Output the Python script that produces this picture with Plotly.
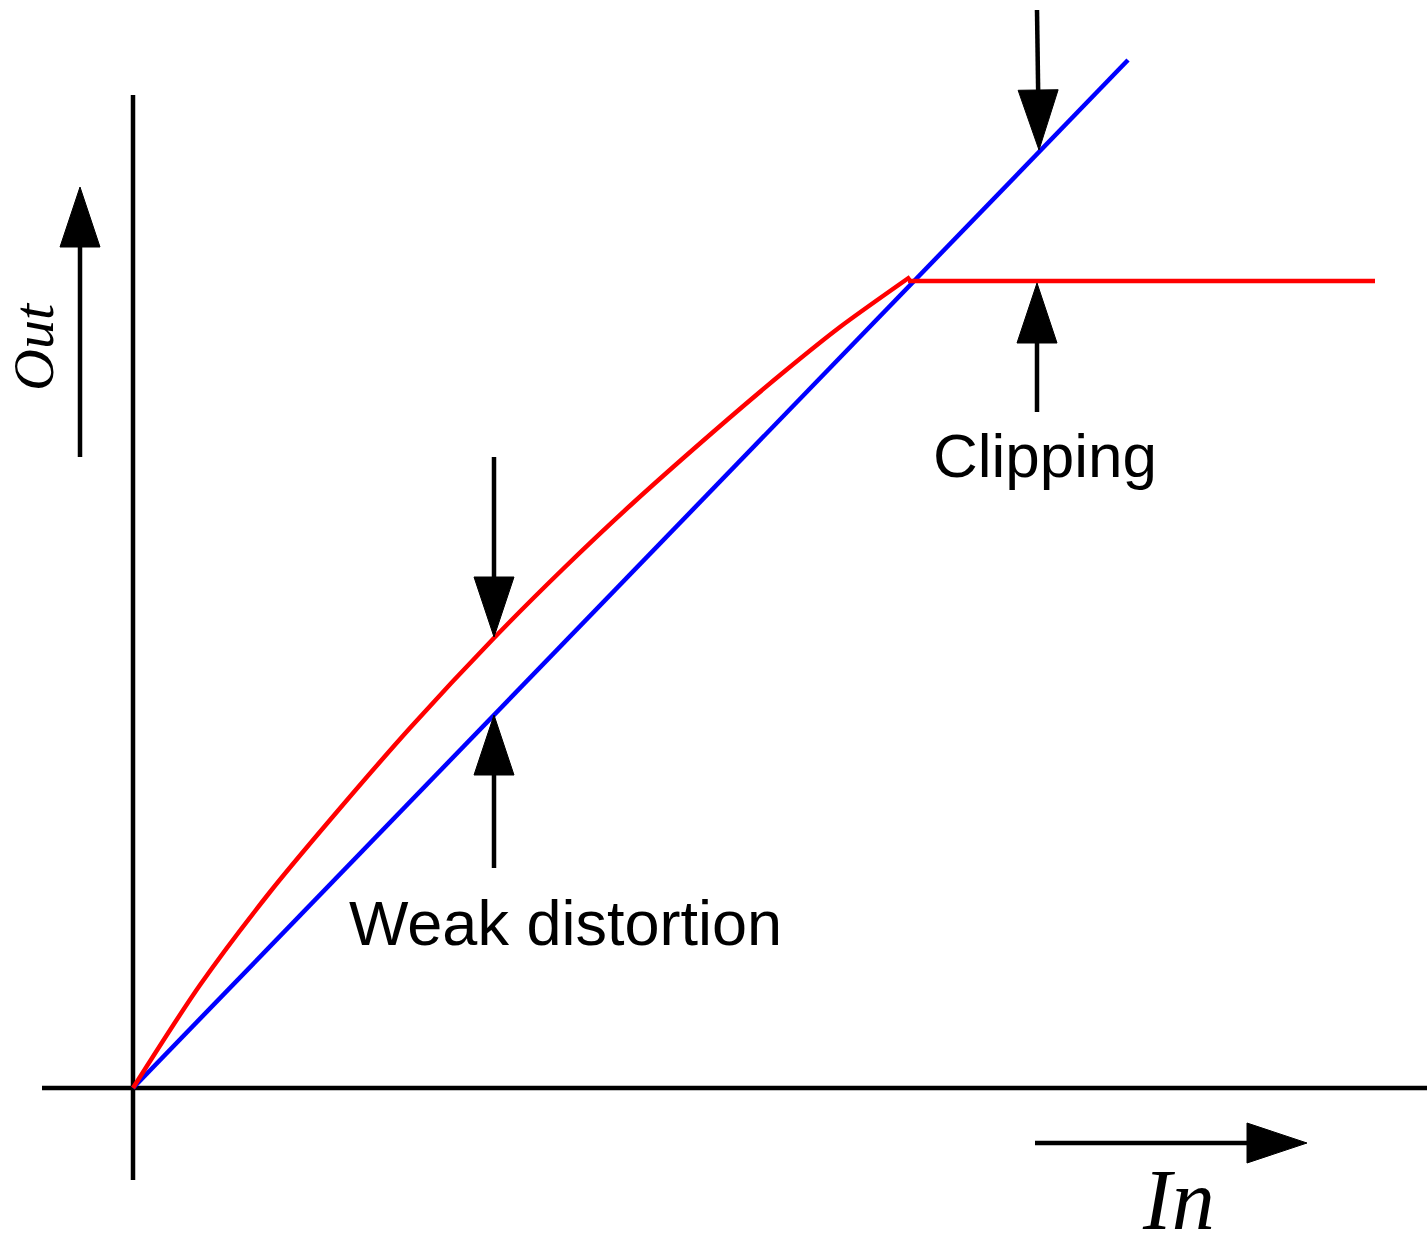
import plotly.graph_objects as go

# ---- data (In / Out units: 1 unit = 100 px of the original drawing) ----
linear_in = [0.0, 9.95]
linear_out = [0.0, 10.28]

curve_in = [0.0, 0.67, 1.37, 1.97, 2.77, 3.61, 4.30, 5.00, 5.94, 6.52, 7.07, 7.77]
curve_out = [0.0, 1.03, 1.96, 2.68, 3.60, 4.50, 5.19, 5.85, 6.68, 7.17, 7.61, 8.11]

clip_in = [7.75, 12.42]
clip_out = [8.07, 8.07]

# axis extents
x_axis_line = [-0.91, 12.94]
y_axis_line = [-0.92, 9.93]

# annotation arrows: (tail_x, tail_y, tip_x, tip_y)
arrows = [
    (9.04, 10.78, 9.06, 9.38),   # clipping, from above
    (9.04, 6.76, 9.04, 8.05),    # clipping, from below
    (3.61, 6.31, 3.61, 4.51),    # weak distortion, from above
    (3.61, 2.20, 3.61, 3.73),    # weak distortion, from below
    (-0.53, 6.31, -0.53, 9.01),  # Out direction
    (9.02, -0.55, 11.74, -0.55), # In direction
]
HEAD_LEN = 0.60
HEAD_HALF = 0.20

fig = go.Figure()

fig.add_trace(go.Scatter(x=linear_in, y=linear_out, mode="lines",
                         line=dict(color="#0000ff", width=4.5), hoverinfo="skip"))
fig.add_trace(go.Scatter(x=curve_in, y=curve_out, mode="lines",
                         line=dict(color="#ff0000", width=4.5, shape="spline", smoothing=0.8),
                         hoverinfo="skip"))
fig.add_trace(go.Scatter(x=clip_in, y=clip_out, mode="lines",
                         line=dict(color="#ff0000", width=4.5), hoverinfo="skip"))

shapes = []
# axes
shapes.append(dict(type="line", x0=x_axis_line[0], x1=x_axis_line[1], y0=0, y1=0,
                   line=dict(color="black", width=4.5), layer="below"))
shapes.append(dict(type="line", x0=0, x1=0, y0=y_axis_line[0], y1=y_axis_line[1],
                   line=dict(color="black", width=4.5), layer="below"))

for tx, ty, px, py in arrows:
    dx, dy = px - tx, py - ty
    L = (dx ** 2 + dy ** 2) ** 0.5
    ux, uy = dx / L, dy / L
    bx, by = px - ux * HEAD_LEN, py - uy * HEAD_LEN
    nx, ny = -uy, ux
    shapes.append(dict(type="line", x0=tx, y0=ty, x1=bx, y1=by,
                       line=dict(color="black", width=4.5)))
    path = (f"M {px},{py} L {bx + nx * HEAD_HALF},{by + ny * HEAD_HALF} "
            f"L {bx - nx * HEAD_HALF},{by - ny * HEAD_HALF} Z")
    shapes.append(dict(type="path", path=path, fillcolor="black",
                       line=dict(color="black", width=1)))

annotations = [
    dict(x=9.12, y=6.33, text="Clipping", showarrow=False,
         font=dict(family="Liberation Sans, Arial, sans-serif", size=62, color="black"),
         xanchor="center", yanchor="middle"),
    dict(x=4.32, y=1.65, text="Weak distortion", showarrow=False,
         font=dict(family="Liberation Sans, Arial, sans-serif", size=63, color="black"),
         xanchor="center", yanchor="middle"),
    dict(x=10.45, y=-1.12, text="<i>In</i>", showarrow=False,
         font=dict(family="Liberation Serif, Times New Roman, serif", size=86, color="black"),
         xanchor="center", yanchor="middle"),
    dict(x=-1.00, y=7.41, text="<i>Out</i>", showarrow=False, textangle=-90,
         font=dict(family="Liberation Serif, Times New Roman, serif", size=58, color="black"),
         xanchor="center", yanchor="middle"),
]

fig.update_layout(
    width=1427, height=1241,
    margin=dict(l=0, r=0, t=0, b=0),
    paper_bgcolor="white", plot_bgcolor="white",
    showlegend=False,
    shapes=shapes, annotations=annotations,
    xaxis=dict(range=[-1.33, 12.94], visible=False, fixedrange=True),
    yaxis=dict(range=[-1.53, 10.88], visible=False, fixedrange=True),
)

fig.write_html(
    "out.html",
    config={"displayModeBar": False},
    post_script="document.body.style.margin='0px';document.body.style.overflow='hidden';",
)
